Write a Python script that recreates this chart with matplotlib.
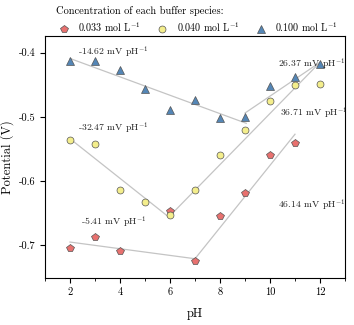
import matplotlib
matplotlib.use("Agg")
import matplotlib.pyplot as plt
from matplotlib.ticker import MultipleLocator

plt.rcParams['font.family'] = 'cmr10'
plt.rcParams['mathtext.fontset'] = 'cm'
plt.rcParams['axes.unicode_minus'] = False
plt.rcParams['axes.formatter.use_mathtext'] = True

# Data
ph_red = [2, 3, 4, 6, 7, 8, 9, 10, 11]
v_red = [-0.704, -0.687, -0.709, -0.646, -0.724, -0.655, -0.618, -0.560, -0.541]
ph_yel = [2, 3, 4, 5, 6, 7, 8, 9, 10, 11, 12]
v_yel = [-0.536, -0.543, -0.614, -0.633, -0.653, -0.614, -0.560, -0.521, -0.475, -0.450, -0.448]
ph_blu = [2, 3, 4, 5, 6, 7, 8, 9, 10, 11, 12]
v_blu = [-0.413, -0.413, -0.427, -0.456, -0.489, -0.473, -0.502, -0.500, -0.452, -0.438, -0.417]

labels = ['0.033 mol L$^{-1}$', '0.040 mol L$^{-1}$', '0.100 mol L$^{-1}$']

# Fit segments (x pair, y pair)
fit_x = [[2, 9.05], [9.0, 12], [2, 5.95], [5.95, 12], [2, 7], [7, 11]]
fit_y = [[-0.409, -0.510], [-0.494, -0.415], [-0.534, -0.656], [-0.656, -0.415],
         [-0.695, -0.721], [-0.721, -0.527]]

ann_text = ['-14.62 mV pH$^{-1}$', '26.37 mV pH$^{-1}$', '-32.47 mV pH$^{-1}$',
            '36.71 mV pH$^{-1}$', '-5.41 mV pH$^{-1}$', '46.14 mV pH$^{-1}$']
ann_x = [2.3, 10.3, 2.3, 10.4, 2.45, 10.3]
ann_y = [-0.400, -0.418, -0.517, -0.494, -0.664, -0.637]

fig = plt.figure(figsize=(3.54, 3.25), dpi=100)
ax = fig.add_axes([45/354, 1 - 278/325, 300/354, 242/325])

for xs, ys in zip(fit_x, fit_y):
    ax.plot(xs, ys, color='#c4c4c4', lw=0.9, zorder=1)

red = '#e8716f'
yel = '#f4ee8c'
blu = '#5486b6'
ec = '#555555'
ax.plot(ph_red, v_red, 'p', ms=5.5, mfc=red, mec=ec, mew=0.5, ls='none', label=labels[0], zorder=3)
ax.plot(ph_yel, v_yel, 'o', ms=5, mfc=yel, mec=ec, mew=0.5, ls='none', label=labels[1], zorder=3)
ax.plot(ph_blu, v_blu, '^', ms=5.5, mfc=blu, mec=ec, mew=0.5, ls='none', label=labels[2], zorder=2)

for t, x, y in zip(ann_text, ann_x, ann_y):
    ax.text(x, y, t, fontsize=7, ha='left', va='center', color='#222222')

ax.set_xlim(1, 13)
ax.set_ylim(-0.751, -0.374)
ax.xaxis.set_minor_locator(MultipleLocator(1))
ax.set_xticks([2, 4, 6, 8, 10, 12])
ax.set_xticklabels(['2', '4', '6', '8', '10', '12'])
ax.set_yticks([-0.4, -0.5, -0.6, -0.7])
ax.set_yticklabels(['-0.4', '-0.5', '-0.6', '-0.7'])
ax.tick_params(labelsize=7.5, direction='out', length=3.5, width=0.8)
ax.tick_params(which='minor', length=2, width=0.6)
for s in ax.spines.values():
    s.set_linewidth(0.8)

ax.set_xlabel('pH', fontsize=9, labelpad=8)
ax.set_ylabel('Potential (V)', fontsize=9, labelpad=3)

leg = ax.legend(loc='lower left', bbox_to_anchor=(0.03, 1.0), ncol=3, frameon=False,
                fontsize=7.2, title='Concentration of each buffer species:',
                title_fontsize=7.5, handletextpad=0.7, columnspacing=1.4,
                borderaxespad=0.0, borderpad=0.2, handlelength=1.5)
leg._legend_box.align = 'left'

fig.savefig('out.png', dpi=100)
